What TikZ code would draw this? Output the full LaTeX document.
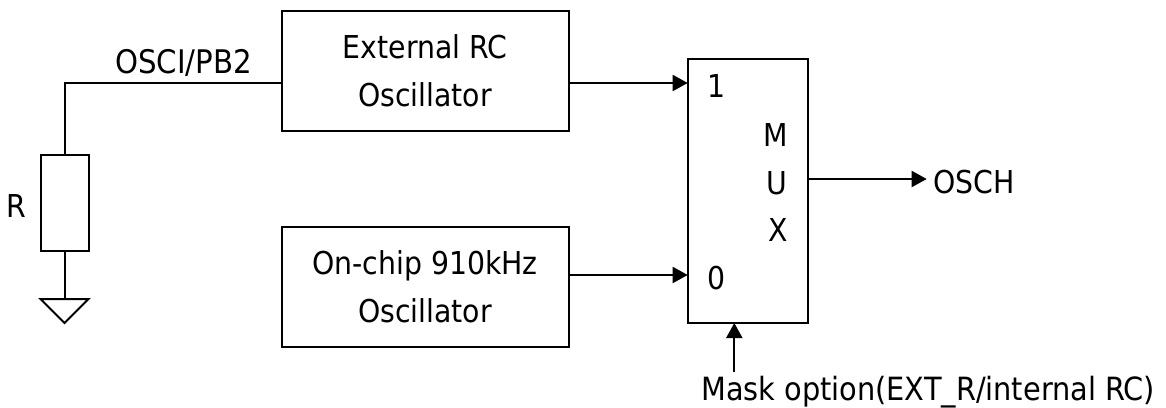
\documentclass[tikz,border=0pt]{standalone}
\usepackage{fontspec}
\setmainfont{DejaVu Sans Condensed}
\usetikzlibrary{calc, arrows.meta}
\tikzset{
  wire/.style={line width=2pt},
  feed/.style={wire, -{Triangle[length=15pt, width=16pt]}},
  oscbox/.style={draw, line width=2pt, minimum width=287pt, minimum height=120pt, inner sep=0pt, align=center, font=\fontsize{31.5}{48}\selectfont, execute at begin node={\rule{0pt}{29pt}}},
  txt/.style={inner sep=0pt, font=\fontsize{31.5}{48}\selectfont}
}

\begin{document}
\begin{tikzpicture}[x=1pt, y=-1pt]
        \useasboundingbox (0,0) rectangle (1166,407);
        \node[oscbox] (extosc) at (425,71) {External RC\\Oscillator};
        \node[oscbox] (chiposc) at (425,287) {On-chip 910kHz\\Oscillator};
        \node[draw, line width=2pt, minimum width=120pt, minimum height=264pt, inner sep=0pt] (mux) at (747.7,191) {};
        \node[draw, line width=2pt, minimum width=48pt, minimum height=96pt, inner sep=0pt] (res) at (64.5,203) {};
        % ground symbol
        \coordinate (gnd) at (64.5,299);
        \draw[line width=2pt, line join=miter] ($(gnd)+(-24,0)$) -- ($(gnd)+(24,0)$) -- ($(gnd)+(0,24)$) -- cycle;
        \coordinate (pin) at (281.5,83);
        \coordinate (bend) at (64.5,83);
        \coordinate (inone) at (687.7,83);
        \coordinate (inzero) at (687.7,275);
        \coordinate (outq) at (926.7,179);
        \coordinate (sel) at (734.3,323);
        \coordinate (selb) at (734.3,372);
        \draw[wire] (pin) -- (bend) -- (res.north);
        \draw[wire] (res.south) -- (gnd);
        \draw[feed] (extosc.east |- inone) -- (inone);
        \draw[feed] (chiposc.east |- inzero) -- (inzero);
        \draw[feed] (mux.east |- outq) -- (outq);
        \draw[feed] (selb) -- (sel);
        \node[txt, font=\fontsize{32.5}{48}\selectfont, anchor=base west] (pinlabel) at (115,73) {OSCI/PB2};
        \node[txt, anchor=base west] (rlabel) at (6.5,217) {R};
        \node[txt, anchor=base] (lblone) at (717,97.5) {1};
        \node[txt, anchor=base] (lblzero) at (717,289) {0};
        \node[txt, anchor=base] (lblm) at (776,146) {M};
        \node[txt, anchor=base] (lblu) at (777,194) {U};
        \node[txt, anchor=base] (lblx) at (778.5,241.5) {X};
        \node[txt, anchor=base west] (lblout) at (933,193) {OSCH};
        \node[txt, font=\fontsize{32}{48}\selectfont, anchor=base west] (lblmask) at (701,400) {Mask option(EXT\_R/internal RC)};
      \end{tikzpicture}
\end{document}
